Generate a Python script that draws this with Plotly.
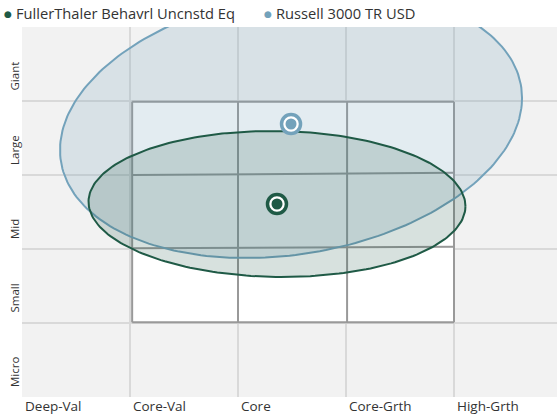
import numpy as np
import plotly.graph_objects as go

# ---- data ----
x_labels = ["Deep-Val", "Core-Val", "Core", "Core-Grth", "High-Grth"]
y_labels = ["Micro", "Small", "Mid", "Large", "Giant"]
series_names = ["FullerThaler Behavrl Uncnstd Eq", "Russell 3000 TR USD"]
series_colors = ["#1f5a46", "#73a2bb"]
series_fill = ["rgba(31,90,70,0.18)", "rgba(115,162,187,0.20)"]
# centroid (style score, size score) in grid units
centroid_x = [2.361, 2.491]
centroid_y = [2.608, 3.689]
# ownership zone half-widths / half-heights and skew
zone_sx = [1.745, 2.139]
zone_sy = [0.986, 1.811]
zone_rho = [-0.03, 0.194]
# style box breakpoints
box_x = [1.02, 2.0, 3.01, 4.0]
box_y_left = [1.01, 2.01, 3.0, 3.99]
box_y_right = [1.01, 2.03, 3.03, 3.99]

FONT = "'Open Sans', sans-serif"
TXT = "#333333"

fig = go.Figure()

# style box white fill
bx = [box_x[0], box_x[-1], box_x[-1], box_x[0], box_x[0]]
by = [box_y_left[0], box_y_right[0], box_y_right[-1], box_y_left[-1], box_y_left[0]]
fig.add_trace(go.Scatter(x=bx, y=by, mode="lines", fill="toself", fillcolor="white",
                         line=dict(width=0), hoverinfo="skip", showlegend=False))
# style box lines
for yl, yr in zip(box_y_left, box_y_right):
    fig.add_trace(go.Scatter(x=[box_x[0], box_x[-1]], y=[yl, yr], mode="lines",
                             line=dict(color="#999999", width=2), hoverinfo="skip", showlegend=False))
for xv in box_x:
    f = (xv - box_x[0]) / (box_x[-1] - box_x[0])
    y0 = box_y_left[0] + f * (box_y_right[0] - box_y_left[0])
    y1 = box_y_left[-1] + f * (box_y_right[-1] - box_y_left[-1])
    fig.add_trace(go.Scatter(x=[xv, xv], y=[y0, y1], mode="lines",
                             line=dict(color="#999999", width=2), hoverinfo="skip", showlegend=False))

# ownership zones (benchmark first, fund on top)
t = np.linspace(0, 2 * np.pi, 240)
for i in [1, 0]:
    ex = centroid_x[i] + zone_sx[i] * np.cos(t)
    ey = centroid_y[i] + zone_sy[i] * (zone_rho[i] * np.cos(t) + np.sqrt(1 - zone_rho[i] ** 2) * np.sin(t))
    fig.add_trace(go.Scatter(x=ex, y=ey, mode="lines", fill="toself", fillcolor=series_fill[i],
                             line=dict(color=series_colors[i], width=2), hoverinfo="skip", showlegend=False))

# centroids
for i in [1, 0]:
    fig.add_trace(go.Scatter(x=[centroid_x[i]], y=[centroid_y[i]], mode="markers",
                             marker=dict(size=19, color="white", line=dict(color=series_colors[i], width=3.5)),
                             name=series_names[i], showlegend=False))
    fig.add_trace(go.Scatter(x=[centroid_x[i]], y=[centroid_y[i]], mode="markers",
                             marker=dict(size=11, color=series_colors[i]),
                             hoverinfo="skip", showlegend=False))

annotations = []
W, H = 535.0, 370.0
# x labels
for k, lab in enumerate(x_labels):
    annotations.append(dict(x=k, y=-8.5 / H, xref="x", yref="paper", text=lab, showarrow=False,
                            xanchor="left", yanchor="middle", xshift=1,
                            font=dict(family=FONT, size=13.5, color=TXT)))
# y labels
for k, lab in enumerate(y_labels):
    annotations.append(dict(x=-8 / W, y=k, xref="paper", yref="y", text=lab, showarrow=False,
                            textangle=-90, xanchor="center", yanchor="bottom", yshift=8,
                            font=dict(family=FONT, size=11.5, color=TXT)))
# legend
leg_dot_x = [8, 268]
leg_txt_x = [14, 274]
for i in range(2):
    annotations.append(dict(x=(leg_dot_x[i] - 22) / W, y=(397 - 14) / H, xref="paper", yref="paper",
                            text="●", showarrow=False, xanchor="center", yanchor="middle",
                            font=dict(family="DejaVu Sans", size=9, color=series_colors[i])))
    annotations.append(dict(x=(leg_txt_x[i] - 22) / W, y=(397 - 13) / H, xref="paper", yref="paper",
                            text=series_names[i], showarrow=False, xanchor="left", yanchor="middle",
                            font=dict(family=FONT, size=14.7, color=TXT)))

fig.update_layout(
    width=557, height=414,
    margin=dict(l=22, r=0, t=27, b=17),
    paper_bgcolor="white", plot_bgcolor="#f2f2f2",
    showlegend=False,
    xaxis=dict(range=[0, 535 / 108], tickvals=[1, 2, 3, 4], showticklabels=False, showgrid=True,
               gridcolor="#d9d9d9", gridwidth=2, zeroline=False, fixedrange=True),
    yaxis=dict(range=[0, 5], tickvals=[1, 2, 3, 4], showticklabels=False, showgrid=True,
               gridcolor="#d9d9d9", gridwidth=2, zeroline=False, fixedrange=True),
    annotations=annotations,
)

fig.write_html("out.html", config={"displayModeBar": False},
               post_script="document.body.style.margin='0';document.body.style.overflow='hidden';")
